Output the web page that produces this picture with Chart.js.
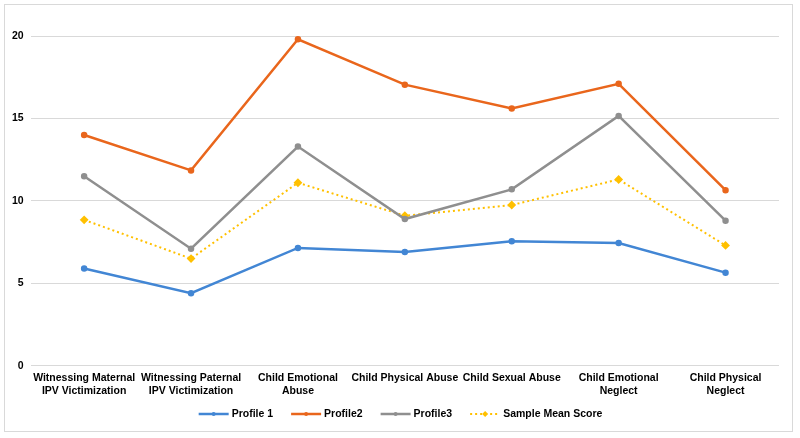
<!DOCTYPE html>
<html>
<head>
<meta charset="utf-8">
<script src="https://cdn.jsdelivr.net/npm/chart.js@4"></script>
<style>
  body { margin: 0; background: #fff; }
  #wrap { position: absolute; left: 4px; top: 4px; width: 787px; height: 426px; border: 1px solid #d9d9d9; }
</style>
</head>
<body>
<div id="wrap"><canvas id="chart"></canvas></div>
<script>
// Categories and series
const categories = [
    ['Witnessing Maternal', 'IPV Victimization'],
    ['Witnessing Paternal', 'IPV Victimization'],
    ['Child Emotional', 'Abuse'],
    'Child Physical Abuse',
    'Child Sexual Abuse',
    ['Child Emotional', 'Neglect'],
    ['Child Physical', 'Neglect']
];
const profile1 = [5.9, 4.4, 7.15, 6.9, 7.55, 7.45, 5.65];
const profile2 = [14.0, 11.85, 19.8, 17.05, 15.6, 17.1, 10.65];
const profile3 = [11.5, 7.1, 13.3, 8.9, 10.7, 15.15, 8.8];
const sampleMean = [8.85, 6.5, 11.1, 9.1, 9.75, 11.3, 7.3];
const yTicks = [0, 5, 10, 15, 20];

const font = { family: 'Liberation Sans, Arial, sans-serif', size: 10.5, weight: 'bold', lineHeight: 1.2 };

// Legend drawn by hand: line with the marker in its middle, like the original
const bottomLegend = {
    id: 'bottomLegend',
    afterDraw(chart) {
        const ctx = chart.ctx;
        ctx.save();
        ctx.font = 'bold 10.5px "Liberation Sans", Arial, sans-serif';
        const lineW = 30, textGap = 3, itemGap = 18;
        const items = chart.data.datasets.map(ds => ({ ds, w: lineW + textGap + ctx.measureText(ds.label).width }));
        const total = items.reduce((s, it) => s + it.w, 0) + itemGap * (items.length - 1);
        let x = (chart.width - total) / 2 + 2;
        const y = chart.height - 17;
        items.forEach(it => {
            const ds = it.ds;
            ctx.strokeStyle = ds.borderColor;
            ctx.lineWidth = ds.borderWidth;
            ctx.setLineDash(ds.borderDash || []);
            ctx.beginPath();
            ctx.moveTo(x, y);
            ctx.lineTo(x + lineW, y);
            ctx.stroke();
            ctx.setLineDash([]);
            ctx.fillStyle = ds.backgroundColor;
            const cx = x + lineW / 2, r = ds.pointRadius;
            ctx.beginPath();
            if (ds.pointStyle === 'rectRot') {
                ctx.moveTo(cx, y - r); ctx.lineTo(cx + r, y); ctx.lineTo(cx, y + r); ctx.lineTo(cx - r, y);
                ctx.closePath();
            } else {
                ctx.arc(cx, y, r, 0, Math.PI * 2);
            }
            ctx.fill();
            ctx.fillStyle = '#000';
            ctx.textBaseline = 'middle';
            ctx.fillText(ds.label, x + lineW + textGap, y);
            x += it.w + itemGap;
        });
        ctx.restore();
    }
};

const ctx = document.getElementById('chart').getContext('2d');
new Chart(ctx, {
    type: 'line',
    data: {
        labels: categories,
        datasets: [{
            label: 'Profile 1',
            data: profile1,
            borderColor: '#4286d4',
            backgroundColor: '#4286d4',
            borderWidth: 2.5,
            pointRadius: 2,
            pointStyle: 'circle'
        }, {
            label: 'Profile2',
            data: profile2,
            borderColor: '#e9661c',
            backgroundColor: '#e9661c',
            borderWidth: 2.5,
            pointRadius: 2,
            pointStyle: 'circle'
        }, {
            label: 'Profile3',
            data: profile3,
            borderColor: '#8f8f8f',
            backgroundColor: '#8f8f8f',
            borderWidth: 2.5,
            pointRadius: 2,
            pointStyle: 'circle'
        }, {
            label: 'Sample Mean Score',
            data: sampleMean,
            borderColor: '#ffc000',
            backgroundColor: '#ffc000',
            borderWidth: 2,
            borderDash: [2, 3],
            pointRadius: 3,
            pointStyle: 'rectRot'
        }]
    },
    plugins: [bottomLegend],
    options: {
        responsive: true,
        maintainAspectRatio: false,
        animation: false,
        layout: { padding: { top: 31, right: 13, left: 0, bottom: 28 } },
        plugins: {
            legend: { display: false },
            tooltip: { enabled: false }
        },
        scales: {
            x: {
                offset: true,
                grid: { display: false, drawTicks: false },
                border: { display: false },
                ticks: { font: font, color: '#000', maxRotation: 0, autoSkip: false, padding: 6 }
            },
            y: {
                min: 0,
                max: 20,
                afterBuildTicks: axis => { axis.ticks = yTicks.map(v => ({ value: v })); },
                grid: { color: '#d9d9d9', drawTicks: false },
                border: { display: false },
                ticks: { font: font, color: '#000', padding: 7 }
            }
        }
    }
});
</script>
</body>
</html>
